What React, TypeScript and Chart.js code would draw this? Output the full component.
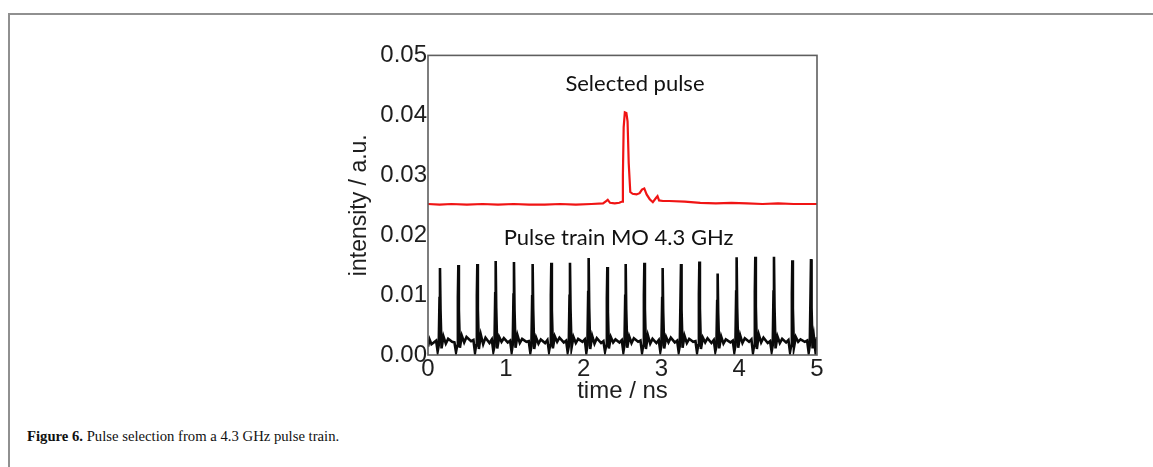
import React, { useEffect, useRef } from "react";
import { Chart, registerables } from "chart.js";

Chart.register(...registerables);

// ---- Data (time in ns, intensity in a.u.) ----
const xTicks = [0, 1, 2, 3, 4, 5];
const yTicks = [0, 0.01, 0.02, 0.03, 0.04, 0.05];

const selectedTime = [
  0, 0.15, 0.3, 0.5, 0.7, 0.9, 1.1, 1.3, 1.5, 1.7, 1.9, 2.1, 2.25, 2.29, 2.31, 2.34, 2.4, 2.46, 2.495,
  2.505, 2.515, 2.53, 2.55, 2.565, 2.58, 2.6, 2.63, 2.68, 2.72, 2.75, 2.78, 2.81, 2.85, 2.89, 2.93, 2.95,
  2.97, 3.02, 3.1, 3.3, 3.5, 3.7, 3.9, 4.1, 4.3, 4.5, 4.7, 4.9, 5.0,
];
const selectedIntensity = [
  0.0252, 0.0251, 0.0252, 0.0251, 0.0252, 0.0251, 0.0252, 0.0251, 0.0251, 0.0252, 0.0251, 0.0252, 0.0253,
  0.0257, 0.0259, 0.0254, 0.0253, 0.0254, 0.0256, 0.03, 0.038, 0.0405, 0.0404, 0.039, 0.032, 0.0272, 0.0269,
  0.0268, 0.027, 0.0276, 0.0278, 0.0268, 0.026, 0.0255, 0.0262, 0.0265, 0.0258, 0.0257, 0.0257, 0.0256,
  0.0254, 0.0253, 0.0254, 0.0253, 0.0252, 0.0253, 0.0252, 0.0252, 0.0252,
];

const trainTime = [
  0.0, 0.02, 0.045, 0.074, 0.104, 0.124, 0.138, 0.148, 0.154, 0.161, 0.174, 0.199, 0.229, 0.259,
  0.31, 0.34, 0.36, 0.374, 0.384, 0.39, 0.397, 0.41, 0.435, 0.465, 0.495,
  0.554, 0.584, 0.604, 0.618, 0.628, 0.634, 0.641, 0.654, 0.679, 0.709, 0.739,
  0.79, 0.82, 0.84, 0.854, 0.864, 0.87, 0.877, 0.89, 0.915, 0.945, 0.975,
  1.025, 1.055, 1.075, 1.089, 1.099, 1.105, 1.112, 1.125, 1.15, 1.18, 1.21,
  1.265, 1.295, 1.315, 1.329, 1.339, 1.345, 1.352, 1.365, 1.39, 1.42, 1.45,
  1.505, 1.535, 1.555, 1.569, 1.579, 1.585, 1.592, 1.605, 1.63, 1.66, 1.69,
  1.745, 1.775, 1.795, 1.809, 1.819, 1.825, 1.832, 1.845, 1.87, 1.9, 1.93,
  1.985, 2.015, 2.035, 2.049, 2.059, 2.065, 2.072, 2.085, 2.11, 2.14, 2.17,
  2.225, 2.255, 2.275, 2.289, 2.299, 2.305, 2.312, 2.325, 2.35, 2.38, 2.41,
  2.461, 2.491, 2.511, 2.525, 2.535, 2.541, 2.548, 2.561, 2.586, 2.616, 2.646,
  2.701, 2.731, 2.751, 2.765, 2.775, 2.781, 2.788, 2.801, 2.826, 2.856, 2.886,
  2.936, 2.966, 2.986, 3.0, 3.01, 3.016, 3.023, 3.036, 3.061, 3.091, 3.121,
  3.172, 3.202, 3.222, 3.236, 3.246, 3.252, 3.259, 3.272, 3.297, 3.327, 3.357,
  3.408, 3.438, 3.458, 3.472, 3.482, 3.488, 3.495, 3.508, 3.533, 3.563, 3.593,
  3.643, 3.673, 3.693, 3.707, 3.717, 3.723, 3.73, 3.743, 3.768, 3.798, 3.828,
  3.887, 3.917, 3.937, 3.951, 3.961, 3.967, 3.974, 3.987, 4.012, 4.042, 4.072,
  4.127, 4.157, 4.177, 4.191, 4.201, 4.207, 4.214, 4.227, 4.252, 4.282, 4.312,
  4.367, 4.397, 4.417, 4.431, 4.441, 4.447, 4.454, 4.467, 4.492, 4.522, 4.552,
  4.603, 4.633, 4.653, 4.667, 4.677, 4.683, 4.69, 4.703, 4.728, 4.758, 4.788,
  4.843, 4.873, 4.893, 4.907, 4.917, 4.923, 4.93, 4.943, 4.96, 4.98, 5.0,
];
const trainIntensity = [
  0.0014, 0.0026, 0.0018, 0.0021, 0.0024, 0.0006, 0.0016, 0.0095, 0.0145, 0.0075, 0.0011, 0.0031, 0.0019, 0.0027,
  0.0022, 0.0021, 0.0005, 0.0015, 0.0097, 0.015, 0.0075, 0.0012, 0.0032, 0.0021, 0.003,
  0.0023, 0.0025, 0.0004, 0.0016, 0.01, 0.0152, 0.0076, 0.001, 0.0034, 0.0018, 0.0029,
  0.002, 0.0026, 0.0006, 0.0014, 0.0103, 0.0157, 0.0079, 0.0011, 0.003, 0.0022, 0.0028,
  0.0021, 0.0024, 0.0005, 0.0017, 0.0101, 0.0155, 0.0076, 0.0012, 0.0033, 0.002, 0.0027,
  0.0022, 0.0023, 0.0004, 0.0015, 0.0098, 0.0152, 0.0077, 0.001, 0.0029, 0.0019, 0.0026,
  0.002, 0.0025, 0.0006, 0.0016, 0.01, 0.0154, 0.0075, 0.0011, 0.0031, 0.0022, 0.0029,
  0.0021, 0.0024, 0.0005, 0.0014, 0.0099, 0.0154, 0.0077, 0.0012, 0.003, 0.002, 0.0027,
  0.0022, 0.0026, 0.0004, 0.0016, 0.0105, 0.0162, 0.008, 0.001, 0.0032, 0.0019, 0.0028,
  0.002, 0.0023, 0.0006, 0.0015, 0.0095, 0.0147, 0.0074, 0.0011, 0.003, 0.0021, 0.0026,
  0.0021, 0.0025, 0.0005, 0.0016, 0.0099, 0.0152, 0.0076, 0.0012, 0.0031, 0.002, 0.0028,
  0.0022, 0.0024, 0.0004, 0.0015, 0.01, 0.0154, 0.0077, 0.001, 0.0033, 0.0019, 0.0027,
  0.002, 0.0025, 0.0006, 0.0016, 0.0095, 0.0145, 0.0073, 0.0011, 0.003, 0.0021, 0.0029,
  0.0021, 0.0024, 0.0005, 0.0015, 0.0099, 0.0152, 0.0076, 0.0012, 0.0032, 0.002, 0.0027,
  0.0022, 0.0023, 0.0004, 0.0016, 0.0102, 0.0156, 0.0078, 0.001, 0.0029, 0.0021, 0.0028,
  0.002, 0.0025, 0.0006, 0.0014, 0.009, 0.0136, 0.007, 0.0011, 0.0031, 0.0019, 0.0026,
  0.0021, 0.0024, 0.0005, 0.0016, 0.0106, 0.0163, 0.008, 0.0012, 0.0033, 0.002, 0.0028,
  0.0022, 0.0026, 0.0004, 0.0015, 0.0106, 0.0164, 0.0081, 0.001, 0.0034, 0.0021, 0.0029,
  0.002, 0.0023, 0.0006, 0.0016, 0.0106, 0.0164, 0.008, 0.0011, 0.0031, 0.002, 0.0027,
  0.0021, 0.0025, 0.0005, 0.0015, 0.0103, 0.0158, 0.0078, 0.0012, 0.003, 0.0022, 0.0026,
  0.0022, 0.0024, 0.0004, 0.0016, 0.0104, 0.016, 0.0079, 0.0011, 0.003, 0.0006, 0.003,
];

const annotations = [
  { text: "Selected pulse", x: 2.66, y: 0.0453 },
  { text: "Pulse train MO 4.3 GHz", x: 2.45, y: 0.0196 },
];

const axisFont = "'Liberation Sans', Arial, sans-serif";

const frameAndLabels = {
  id: "frameAndLabels",
  afterDatasetsDraw(chart: any) {
    const { ctx, chartArea, scales } = chart;
    ctx.save();
    ctx.strokeStyle = "#5e5e5e";
    ctx.lineWidth = 1.6;
    ctx.strokeRect(chartArea.left, chartArea.top, chartArea.right - chartArea.left, chartArea.bottom - chartArea.top);
    ctx.fillStyle = "#111";
    ctx.font = "22px Lato, 'Open Sans', sans-serif";
    ctx.textAlign = "center";
    ctx.textBaseline = "middle";
    for (const a of annotations) {
      ctx.fillText(a.text, scales.x.getPixelForValue(a.x), scales.y.getPixelForValue(a.y));
    }
    ctx.restore();
  },
};

export default function App() {
  const ref = useRef<HTMLCanvasElement | null>(null);

  useEffect(() => {
    if (!ref.current) return;
    const chart = new Chart(ref.current, {
      type: "line",
      data: {
        datasets: [
          {
            label: "Selected pulse",
            data: selectedTime.map((t, i) => ({ x: t, y: selectedIntensity[i] })),
            borderColor: "#f01414",
            borderWidth: 2.2,
            pointRadius: 0,
            tension: 0,
          },
          {
            label: "Pulse train",
            data: trainTime.map((t, i) => ({ x: t, y: trainIntensity[i] })),
            borderColor: "#0a0a0a",
            borderWidth: 2.6,
            pointRadius: 0,
            tension: 0,
          },
        ],
      },
      options: {
        animation: false,
        responsive: false,
        maintainAspectRatio: false,
        layout: { padding: { top: 11, right: 13, left: 0, bottom: 0 } },
        plugins: { legend: { display: false }, tooltip: { enabled: false } },
        scales: {
          x: {
            type: "linear",
            min: 0,
            max: 5,
            afterFit: (s: any) => {
              s.height = 55;
            },
            afterBuildTicks: (s: any) => {
              s.ticks = xTicks.map((v) => ({ value: v }));
            },
            grid: { display: false, drawTicks: false },
            border: { display: false },
            ticks: {
              padding: 0,
              color: "#1e1e1e",
              font: { family: axisFont, size: 24 },
              callback: (v: any) => String(v),
            },
            title: {
              display: true,
              text: "time / ns",
              color: "#1e1e1e",
              font: { family: axisFont, size: 24 },
              padding: { top: 0, bottom: 4 },
            },
          },
          y: {
            type: "linear",
            min: 0,
            max: 0.05,
            afterFit: (s: any) => {
              s.width = 98;
            },
            afterBuildTicks: (s: any) => {
              s.ticks = yTicks.map((v) => ({ value: v }));
            },
            grid: { display: false, drawTicks: false },
            border: { display: false },
            ticks: {
              padding: 1,
              color: "#1e1e1e",
              font: { family: axisFont, size: 24 },
              callback: (v: any) => Number(v).toFixed(2),
            },
            title: {
              display: true,
              text: "intensity / a.u.",
              color: "#1e1e1e",
              font: { family: axisFont, size: 23 },
              padding: { top: 16, bottom: 0 },
            },
          },
        },
      },
      plugins: [frameAndLabels],
    });
    return () => chart.destroy();
  }, []);

  return (
    <div
      style={{
        position: "fixed",
        left: 0,
        top: 0,
        width: 1153,
        height: 467,
        background: "#fff",
        overflow: "hidden",
      }}
    >
      <div
        style={{
          position: "absolute",
          left: 8,
          top: 13,
          right: -4,
          bottom: -4,
          borderTop: "2px solid #909090",
          borderLeft: "2px solid #909090",
        }}
      />
      <canvas
        ref={ref}
        width={500}
        height={370}
        style={{ position: "absolute", left: 330, top: 40, width: 500, height: 370 }}
      />
      <div
        style={{
          position: "absolute",
          left: 27,
          top: 428,
          fontFamily: "'Liberation Serif', 'Times New Roman', serif",
          fontSize: 14.7,
          lineHeight: "17px",
          color: "#111",
          whiteSpace: "nowrap",
        }}
      >
        <b>Figure 6.</b> Pulse selection from a 4.3 GHz pulse train.
      </div>
    </div>
  );
}
